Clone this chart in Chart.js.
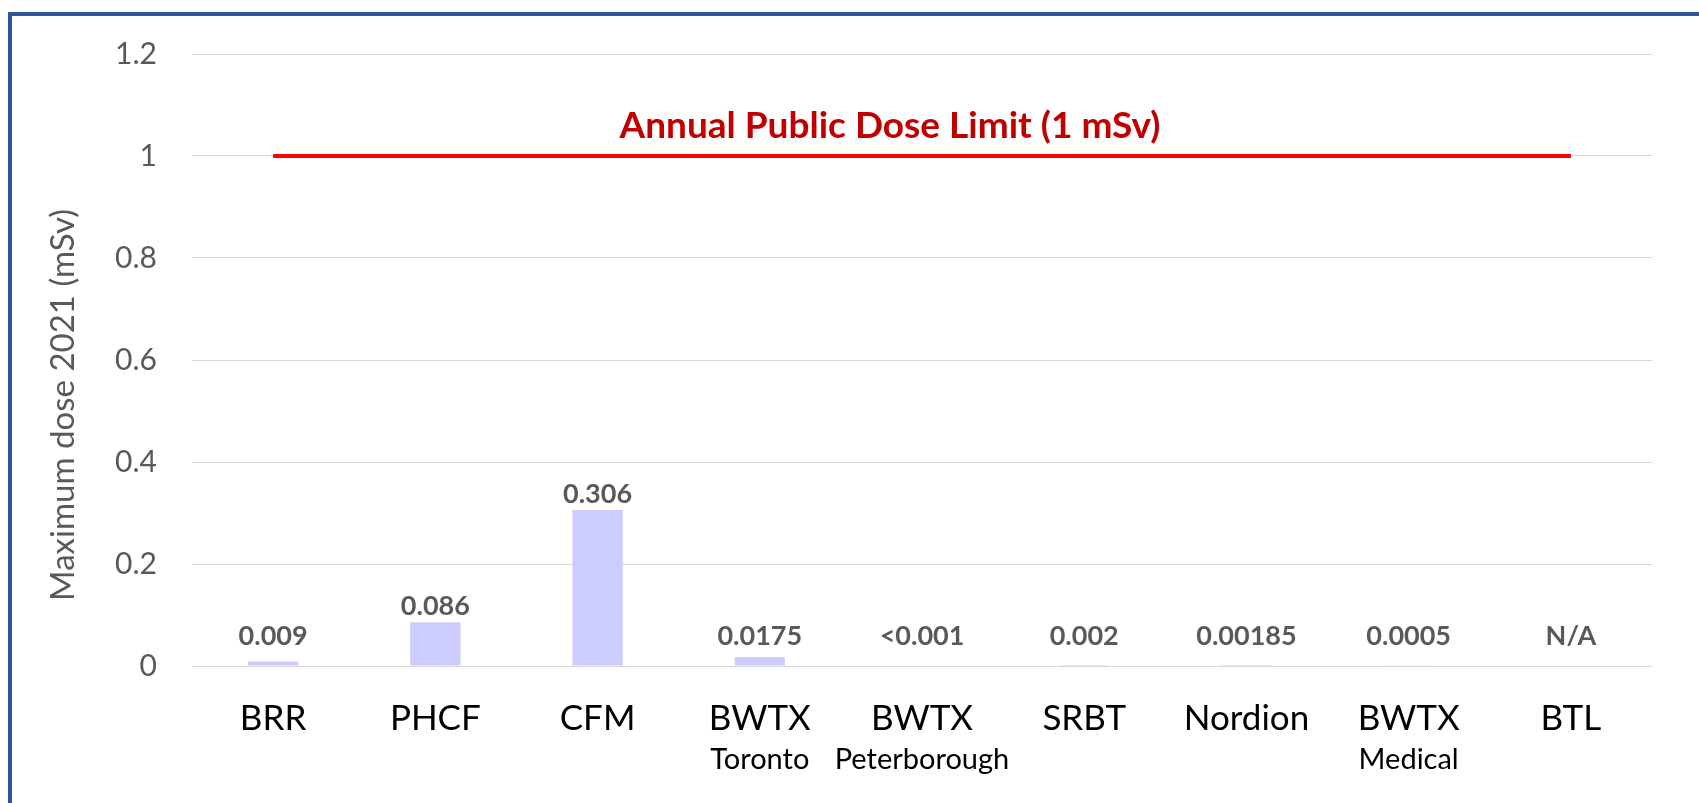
<!DOCTYPE html>
<html>
<head>
<meta charset="utf-8">
<script src="https://cdn.jsdelivr.net/npm/chart.js@4/dist/chart.umd.min.js"></script>
<style>
  html, body { margin: 0; padding: 0; background: #fff; overflow: hidden; }
  #wrap { position: relative; width: 1699px; height: 803px; }
  #frame { position: absolute; left: 8px; top: 12px; width: 1800px; height: 900px;
           border-left: 4px solid #2B5797; border-top: 4px solid #2B5797; box-sizing: border-box; pointer-events: none; }
  canvas { position: absolute; left: 0; top: 0; }
</style>
</head>
<body>
<div id="wrap">
  <canvas id="c" width="1699" height="803"></canvas>
  <div id="frame"></div>
</div>
<script>
const categories = ["BRR", "PHCF", "CFM", "BWTX", "BWTX", "SRBT", "Nordion", "BWTX", "BTL"];
const subLabels  = ["", "", "", "Toronto", "Peterborough", "", "", "Medical", ""];
const doseValues = [0.009, 0.086, 0.306, 0.0175, 0, 0.002, 0.00185, 0.0005, null];
const doseLabels = ["0.009", "0.086", "0.306", "0.0175", "<0.001", "0.002", "0.00185", "0.0005", "N/A"];
const limitValues = [1, 1, 1, 1, 1, 1, 1, 1, 1];
const limitText = "Annual Public Dose Limit (1 mSv)";
const yTitle = "Maximum dose 2021 (mSv)";
const yTicks = [0, 0.2, 0.4, 0.6, 0.8, 1, 1.2];

const FONT = "Lato, 'Open Sans', sans-serif";
const GRAY = "#595959";

const extras = {
  id: 'extras',
  afterDatasetsDraw(chart) {
    const ctx = chart.ctx;
    const xs = chart.scales.x, ys = chart.scales.y;
    const zeroY = ys.getPixelForValue(0);
    ctx.save();
    // data labels
    ctx.font = "bold 27px " + FONT;
    ctx.fillStyle = GRAY;
    ctx.textAlign = "center";
    ctx.textBaseline = "middle";
    categories.forEach((c, i) => {
      const x = xs.getPixelForValue(i);
      const v = doseValues[i] == null ? 0 : doseValues[i];
      const top = ys.getPixelForValue(v);
      const y = Math.min(top - 16, zeroY - 30);
      ctx.fillText(doseLabels[i], x, y);
    });
    // sub labels
    ctx.font = "29px " + FONT;
    ctx.fillStyle = "#000";
    subLabels.forEach((s, i) => {
      if (!s) return;
      ctx.fillText(s, xs.getPixelForValue(i), zeroY + 94);
    });
    // limit text
    ctx.font = "bold 37px " + FONT;
    ctx.fillStyle = "#C00000";
    const ca = chart.chartArea;
    ctx.fillText(limitText, (ca.left + ca.right) / 2 - 32, ys.getPixelForValue(1) - 30);
    // y title
    ctx.font = "33px " + FONT;
    ctx.fillStyle = GRAY;
    ctx.translate(63, (ca.top + ca.bottom) / 2 + 45);
    ctx.rotate(-Math.PI / 2);
    ctx.fillText(yTitle, 0, 0);
    ctx.restore();
  }
};

new Chart(document.getElementById('c'), {
  data: {
    labels: categories,
    datasets: [
      {
        type: 'line',
        data: limitValues,
        borderColor: '#FF0000',
        borderWidth: 4,
        pointRadius: 0,
        fill: false,
        order: 0
      },
      {
        type: 'bar',
        data: doseValues,
        backgroundColor: '#CCCCFF',
        barPercentage: 0.31,
        categoryPercentage: 1,
        order: 1
      }
    ]
  },
  options: {
    responsive: false,
    animation: false,
    events: [],
    layout: { padding: { left: 0, right: 47, top: 54, bottom: 0 } },
    plugins: { legend: { display: false }, tooltip: { enabled: false } },
    scales: {
      x: {
        grid: { display: false },
        border: { display: false },
        ticks: { color: '#000', font: { family: FONT, size: 35 }, padding: 24, maxRotation: 0, autoSkip: false },
        afterFit(s) { s.height = 803 - 666; }
      },
      y: {
        min: 0, max: 1.2,
        afterBuildTicks(s) { s.ticks = yTicks.map(v => ({ value: v })); },
        grid: { color: '#D9D9D9', lineWidth: 1, drawTicks: false },
        border: { display: false },
        ticks: { color: GRAY, font: { family: FONT, size: 30 }, padding: 35,
                 callback: v => String(+v.toFixed(1)) },
        afterFit(s) { s.width = 192; }
      }
    }
  },
  plugins: [extras]
});
</script>
</body>
</html>
